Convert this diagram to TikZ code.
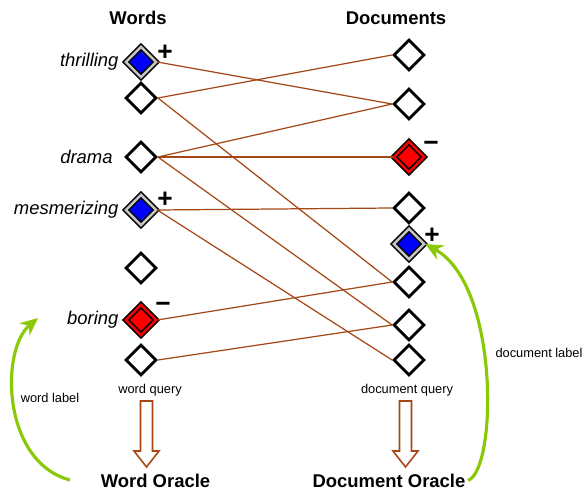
\documentclass[tikz,border=0pt]{standalone}
\usepackage{fontspec}
\setmainfont{Liberation Sans}
\usetikzlibrary{shapes.geometric,arrows.meta,positioning}
\definecolor{Linkcol}{RGB}{166,72,22}
\definecolor{Labcol}{RGB}{138,200,8}
\tikzset{
  entry/.style={diamond,aspect=1,draw=black,line width=1.6pt,fill=white,minimum size=0.62cm,inner sep=0pt},
  entrypos/.style={entry,line width=0.9pt,double=gray!45,double distance=1.4pt,fill=blue},
  entryneg/.style={entry,line width=0.9pt,double=red,double distance=1.4pt,fill=red},
  link/.style={Linkcol,line width=0.7pt},
  labelarrow/.style={-{Stealth[length=10pt,width=9pt]},Labcol,line width=1.8pt},
  sign/.style={font=\bfseries\fontsize{15}{15}\selectfont,inner sep=0pt},
  wordtext/.style={font=\itshape\fontsize{10.5}{12}\selectfont},
  heading/.style={font=\bfseries\fontsize{10.5}{12}\selectfont},
  smalltext/.style={font=\fontsize{7.3}{9}\selectfont},
  queryarrow/.style={draw=Linkcol,line width=0.9pt,fill=white},
}
\begin{document}
\begin{tikzpicture}[x=0.02cm,y=-0.02cm]
  \useasboundingbox (0,0) rectangle (587,489);

  % --- Columns ---
  \node[heading] (hw) at (138,18) {Words};
  \node[heading] (hd) at (396,18) {Documents};

  \foreach \n/\y/\s in {1/62/entrypos,2/98/entry,3/157/entry,4/210/entrypos,5/268/entry,6/320/entryneg,7/360/entry}
    \node[\s] (w\n) at (141,\y) {};
  \foreach \n/\y/\s in {1/55/entry,2/104/entry,3/157/entryneg,4/208/entry,5/244/entrypos,6/282/entry,7/325/entry,8/360/entry}
    \node[\s] (d\n) at (409,\y) {};

  % word names
  \node[wordtext,left=0pt of w1] {thrilling};
  \node[wordtext,left=3pt of w3] {drama};
  \node[wordtext,left=0pt of w4] {mesmerizing};
  \node[wordtext,left=0pt of w6] {boring};

  % labels + and -
  \node[sign] at ([shift={(24,-9)}]w1) {+};
  \node[sign] at ([shift={(24,-10)}]w4) {+};
  \node[sign] at ([shift={(22,-13)}]w6) {−};
  \node[sign] at ([shift={(22,-11)}]d3) {−};
  \node[sign] at ([shift={(23,-8)}]d5) {+};

  % --- Links ---
  \foreach \a/\b in {1/2,2/1,2/6,3/2,3/3,3/7,4/4,4/8,6/6,7/7}
    \draw[link] (w\a.east) -- (d\b.west);

  % --- Queries and oracles ---
  \node[smalltext] (wq) at (150,390) {word query};
  \node[smalltext] (dq) at (407,390) {document query};
  \foreach \x in {146.5,405.5}
    \draw[queryarrow] (\x-6,401) -- (\x+6,401) -- (\x+6,451) -- (\x+12.5,451) -- (\x,467)
      -- (\x-12.5,451) -- (\x-6,451) -- cycle;

  \node[heading,anchor=base] (wo) at (155.5,487) {Word Oracle};
  \node[heading,anchor=base] (do) at (389,487) {Document Oracle};

  % --- Label feedback ---
  \coordinate (wstart) at (70,480);
  \coordinate (wend) at (38,318);
  \draw[labelarrow] (wstart) .. controls (2,462) and (0,350) .. (wend);
  \node[smalltext] (wl) at (50,398) {word label};

  \draw[labelarrow] ([xshift=-2pt]do.east) .. controls (497,470) and (500,285) .. (d5.east);
  \node[smalltext] (dl) at (539,353) {document label};
\end{tikzpicture}
\end{document}
